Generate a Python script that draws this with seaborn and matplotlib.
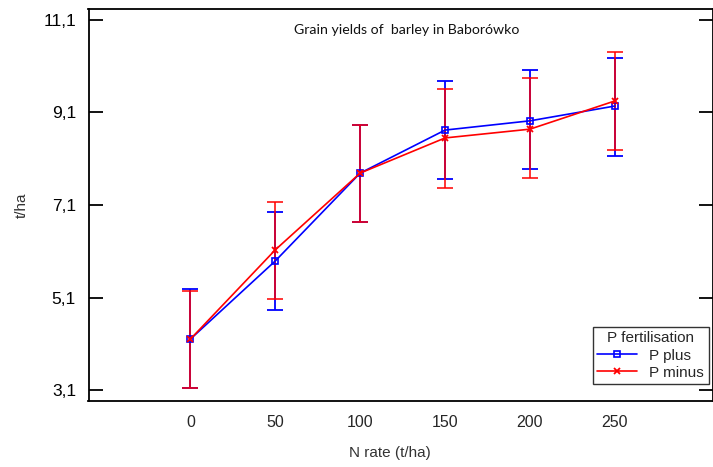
import matplotlib
matplotlib.use("Agg")
import matplotlib.pyplot as plt
import seaborn as sns
import pandas as pd
import numpy as np

# Data
n_rate = [0, 50, 100, 150, 200, 250]
p_plus_mean = [4.20, 5.89, 7.79, 8.72, 8.92, 9.24]
p_plus_upper = [5.28, 6.95, 8.83, 9.78, 10.02, 10.28]
p_plus_lower = [3.14, 4.83, 6.73, 7.66, 7.88, 8.16]
p_minus_mean = [4.20, 6.13, 7.79, 8.55, 8.74, 9.35]
p_minus_upper = [5.24, 7.17, 8.83, 9.61, 9.85, 10.41]
p_minus_lower = [3.14, 5.07, 6.73, 7.47, 7.68, 8.29]
series_names = ["P plus", "P minus"]
y_ticks = [3.1, 5.1, 7.1, 9.1, 11.1]
y_tick_labels = ["3,1", "5,1", "7,1", "9,1", "11,1"]
x_ticks = [0, 50, 100, 150, 200, 250]

sns.set_style("white")
plt.rcParams['font.family'] = ['Liberation Sans', 'DejaVu Sans']

fig = plt.figure(figsize=(7.13, 4.67), dpi=100)
ax = fig.add_axes([88.5 / 713, 1 - 401 / 467, (712.5 - 88.5) / 713, (401 - 9) / 467])

colors = {"P plus": "#0000ff", "P minus": "#ff0000"}
markers = {"P plus": "s", "P minus": "x"}

series = [
    ("P plus", p_plus_mean, p_plus_upper, p_plus_lower, 1.0),
    ("P minus", p_minus_mean, p_minus_upper, p_minus_lower, 0.85),
]

# Error bars
for name, mean, up, lo, al in series:
    m = np.array(mean)
    yerr = np.vstack([m - np.array(lo), np.array(up) - m])
    ax.errorbar(n_rate, m, yerr=yerr, fmt="none", ecolor=colors[name],
                elinewidth=1.3, capsize=6, capthick=1.3, alpha=al, zorder=2)

for name, mean, up, lo, al in series:
    d = pd.DataFrame({"N rate": n_rate, "yield": mean})
    if name == "P plus":
        kw = dict(markerfacecolor="none", markeredgecolor=colors[name],
                  markeredgewidth=1.2, markersize=5)
    else:
        kw = dict(markeredgecolor=colors[name], markerfacecolor=colors[name],
                  markeredgewidth=1.3, markersize=5)
    sns.lineplot(data=d, x="N rate", y="yield", color=colors[name],
                 marker=markers[name], linewidth=1.2, ax=ax, label=name,
                 zorder=3, **kw)

ax.set_xlim(-60, 307.5)
ax.set_ylim(3.1 - 11 / 46.25, 11.1 + 11 / 46.25)
ax.set_yticks(y_ticks)
ax.set_yticklabels(y_tick_labels)
ax.set_xticks(x_ticks)
ax.set_xticklabels([str(v) for v in x_ticks])
ax.tick_params(axis="y", direction="in", length=10, width=1.3, labelsize=12.5,
               left=True, right=True, pad=9, colors="#000000")
ax.tick_params(axis="x", length=0, labelsize=11.5, pad=10)
for s in ax.spines.values():
    s.set_color("black")
    s.set_linewidth(1.3)

ax.set_xlabel("")
ax.set_ylabel("")
fig.text(390 / 713, 1 - 453 / 467, "N rate (t/ha)", ha="center", va="center",
         fontsize=11, color="#333333")
fig.text(22 / 713, 1 - 205 / 467, "t/ha", ha="center", va="center",
         rotation=90, fontsize=11, color="#333333")

ax.text(0.5096, 0.946, "Grain yields of  barley in Baborówko",
        transform=ax.transAxes, ha="center", va="center", fontsize=10.2,
        family=["Lato", "DejaVu Sans"], color="#111111")

handles, labels = ax.get_legend_handles_labels()
leg = ax.legend(handles, labels, title="P fertilisation", loc="lower right",
                bbox_to_anchor=(0.994, 0.043), borderaxespad=0, frameon=True,
                fancybox=False, edgecolor="black", fontsize=11,
                handlelength=2.6, borderpad=0.3, labelspacing=0.2,
                handletextpad=0.8)
leg.get_frame().set_linewidth(1.0)
leg.get_title().set_fontsize(11)
leg.get_title().set_family(["Liberation Sans Narrow", "Liberation Sans"])

fig.savefig("out.png", dpi=100)
